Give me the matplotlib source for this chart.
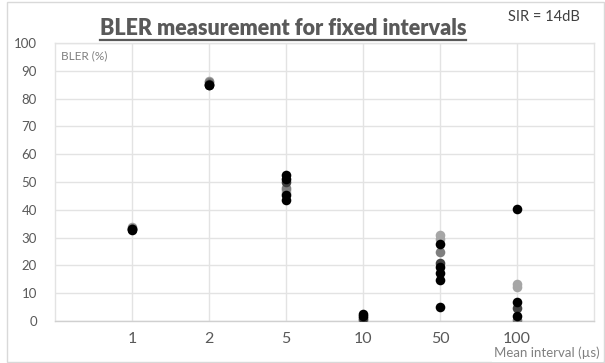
import numpy as np
import matplotlib.pyplot as plt
from matplotlib.patches import Rectangle
from matplotlib.lines import Line2D

plt.rcParams['font.family'] = ['Lato', 'DejaVu Sans']

# x categories (mean interval, us)
intervals = ['1', '2', '5', '10', '50', '100']

# BLER (%) per measurement run, None where no point is visible
run_light1 = [33.8, 86.3, 47.0, 0.2, 31.0, 13.2]
run_light2 = [None, None, 46.0, None, 29.5, 12.2]
run_gray = [33.5, 86.0, 48.0, 0.5, 25.0, 0.5]
run_dark = [33.2, 85.3, 50.0, 1.0, 21.0, 4.7]
run_black1 = [33.0, 85.0, 52.5, 1.7, 27.7, 40.2]
run_black2 = [32.8, 84.8, 43.5, 2.5, 17.4, 7.0]
run_black3 = [None, None, 51.0, None, 14.7, 1.9]
run_black4 = [None, None, 45.5, None, 5.0, None]
run_black5 = [None, None, None, None, 19.5, None]

runs = [(run_light1, '#a6a6a6'), (run_light2, '#a6a6a6'), (run_gray, '#7f7f7f'),
        (run_dark, '#404040'), (run_black1, '#000000'), (run_black2, '#000000'),
        (run_black3, '#000000'), (run_black4, '#000000'), (run_black5, '#000000')]

fig = plt.figure(figsize=(6.05, 3.63), dpi=100)
ax = fig.add_axes([55/605, 1 - 321/363, 539/605, 278/363])

xpos = np.arange(1, len(intervals) + 1)
for vals, col in runs:
    xs = [x for x, v in zip(xpos, vals) if v is not None]
    ys = [v for v in vals if v is not None]
    ax.scatter(xs, ys, s=48, color=col, zorder=3, linewidths=0)

ax.set_xlim(0, 7)
ax.set_ylim(0, 100)
ax.set_xticks(xpos)
ax.set_xticklabels(intervals)
ax.set_yticks(np.arange(0, 101, 10))
ax.tick_params(axis='x', length=0, pad=8, labelsize=11.5, colors='#595959')
ax.tick_params(axis='y', length=0, pad=13, labelsize=9.5, colors='#595959')
ax.grid(True, color='#e3e3e3', linewidth=1)
ax.set_axisbelow(True)
for sp in ax.spines.values():
    sp.set_color('#e3e3e3')
    sp.set_linewidth(1)
ax.spines['bottom'].set_color('#d0d0d0')

# outer chart frame
fig.patches.append(Rectangle((7/605, 1/363), 597/605, 360/363, transform=fig.transFigure,
                             fill=False, edgecolor='#d9d9d9', linewidth=1, zorder=0))

ax.text(0.012, 0.975, 'BLER (%)', transform=ax.transAxes, ha='left', va='top',
        fontsize=8.5, color='#808080')

title = fig.text(283/605, 1 - 35/363, 'BLER measurement for fixed intervals', ha='center',
                 va='baseline', fontsize=15.5, fontweight='heavy', color='#595959',
                 bbox=dict(facecolor='white', edgecolor='none', pad=2))
fig.text(580/605, 1 - 17/363, 'SIR = 14dB', ha='right', va='center', fontsize=10.5,
         color='#404040')
fig.text(600/605, 1 - 353/363, 'Mean interval (\u00b5s)', ha='right', va='center',
         fontsize=9.5, color='#808080',
         bbox=dict(facecolor='white', edgecolor='none', pad=2))

# underline the title
fig.canvas.draw()
bb = title.get_window_extent()
uy = 1 - 39.5/363
fig.lines.append(Line2D([bb.x0/605, bb.x1/605], [uy, uy], transform=fig.transFigure,
                        color='#595959', linewidth=1.6, zorder=10))

fig.savefig('out.png', dpi=100)
